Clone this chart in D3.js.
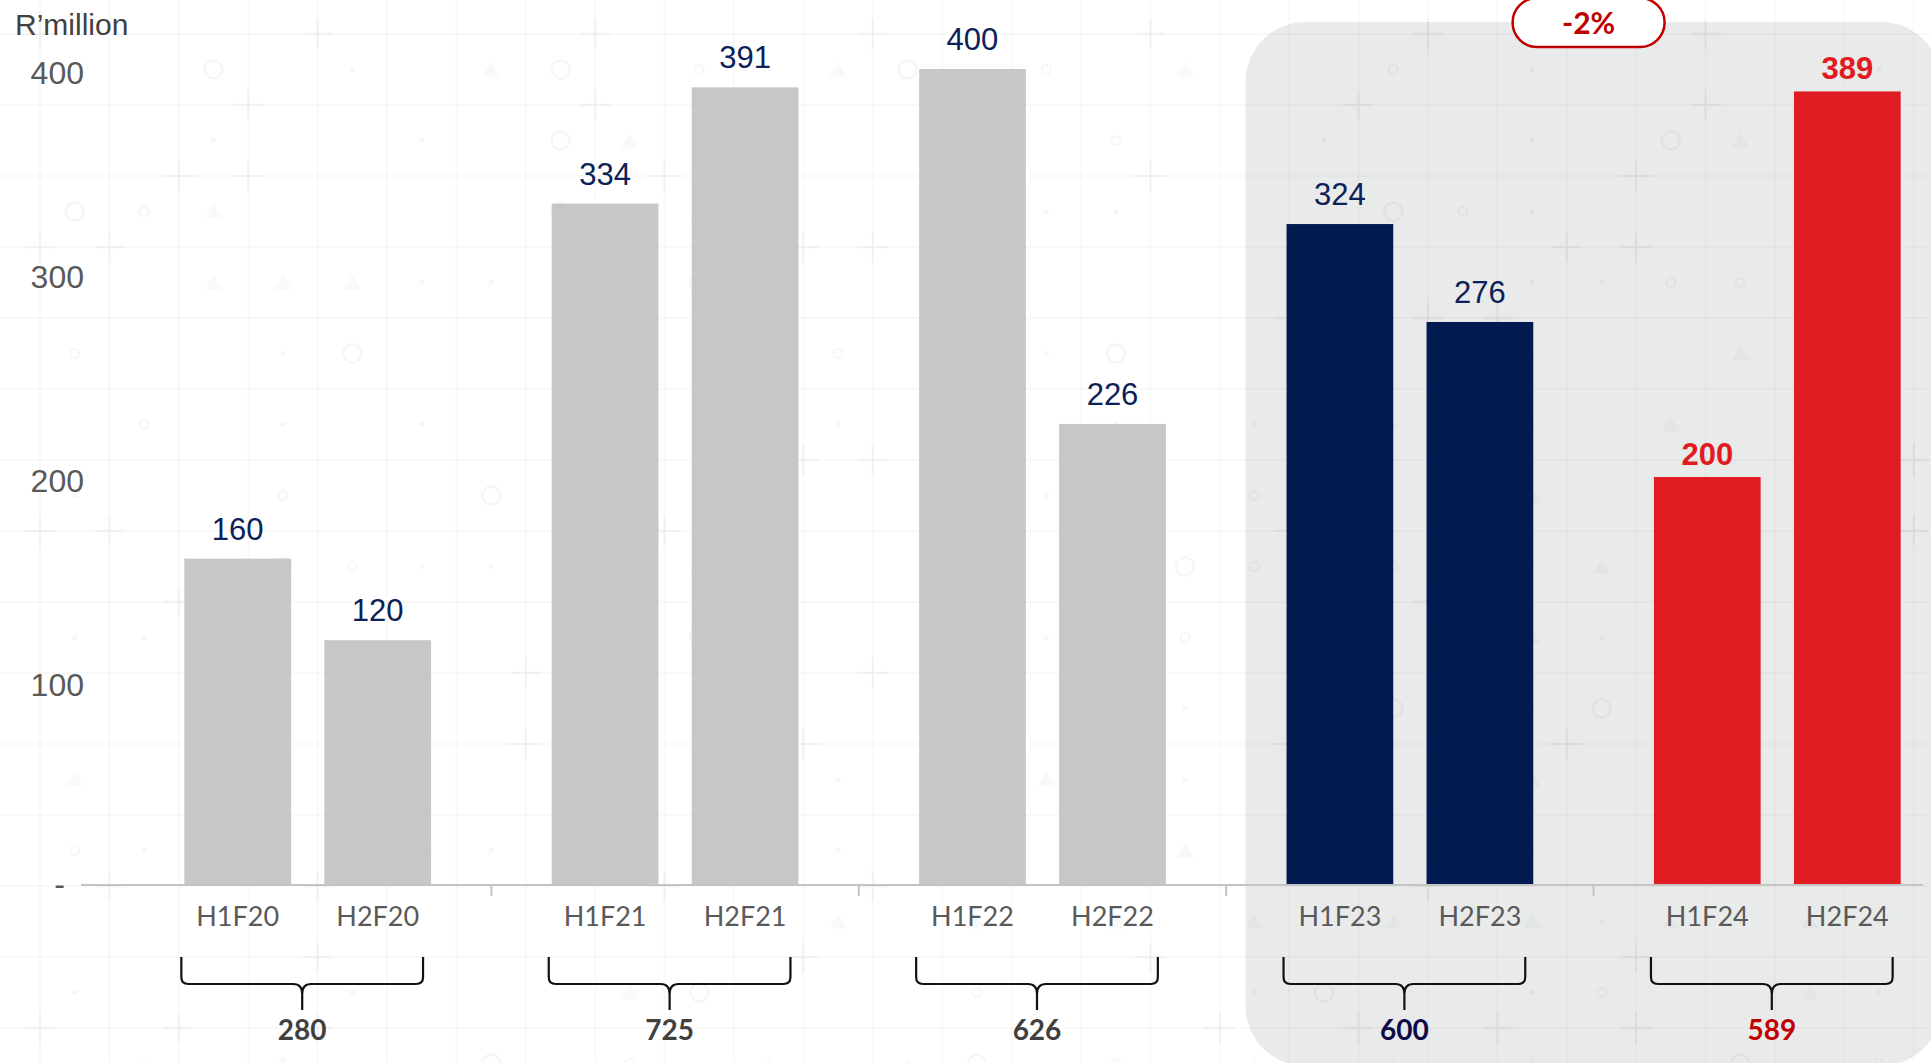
<!DOCTYPE html>
<html>
<head>
<meta charset="utf-8">
<script src="https://cdn.jsdelivr.net/npm/d3@7"></script>
<style>
  html, body { margin: 0; padding: 0; background: #fff; overflow: hidden; }
  svg { display: block; }
</style>
</head>
<body>
<svg id="chart" width="1931" height="1063"></svg>
<script>
// ---- data ----
const periods = ["F20", "F21", "F22", "F23", "F24"];
const halves = ["H1", "H2"];
const h1Values = [160, 334, 400, 324, 200];
const h2Values = [120, 391, 226, 276, 389];
const yearTotals = [280, 725, 626, 600, 589];
const yTicks = [0, 100, 200, 300, 400];
const unitLabel = "R’million";
const changeLabel = "-2%";

// ---- layout ----
const W = 1931, H = 1063;
const baseY = 885;
const svg = d3.select("#chart");

const y = d3.scaleLinear().domain([0, 400]).range([baseY, 69]);
const xGroup = d3.scaleBand().domain(periods).range([124, 1961])
  .paddingInner(0.3285).paddingOuter(0.16425);
const xHalf = d3.scaleBand().domain(halves).range([0, xGroup.bandwidth()])
  .paddingInner(0.238).paddingOuter(0);

const bars = periods.flatMap((p, i) => [
  { period: p, half: "H1", value: h1Values[i], gi: i },
  { period: p, half: "H2", value: h2Values[i], gi: i }
]);

// colour scheme: history in grey, prior year navy, current year red
function styleFor(gi) {
  if (gi === periods.length - 1) return { bar: "#e01b22", label: "#e01b22", bold: true, total: "#c00000" };
  if (gi === periods.length - 2) return { bar: "#011a4f", label: "#0c2157", bold: false, total: "#0b0b48" };
  return { bar: "#c6c7c9", label: "#0c2157", bold: false, total: "#404040" };
}

// ---- highlighted panel behind the last two years ----
const panelX = xGroup(periods[3]) - 41;
svg.append("rect")
  .attr("x", panelX).attr("y", 22)
  .attr("width", W + 10 - panelX).attr("height", 1044)
  .attr("rx", 60).attr("ry", 60)
  .attr("fill", "#e9eaea");

// ---- faint decorative grid pattern ----
const pat = svg.append("g").attr("class", "pattern");
const gx = 69.4, gy = 71, ox = 40, oy = 34;
for (let x = ox - gx; x < W + gx; x += gx) {
  pat.append("line").attr("x1", x).attr("x2", x).attr("y1", 0).attr("y2", H)
    .attr("stroke", "#000").attr("stroke-opacity", 0.025).attr("stroke-width", 2);
}
for (let yy = oy - gy; yy < H + gy; yy += gy) {
  pat.append("line").attr("x1", 0).attr("x2", W).attr("y1", yy).attr("y2", yy)
    .attr("stroke", "#000").attr("stroke-opacity", 0.025).attr("stroke-width", 2);
}
const hash = (i, j) => ((i * 374761 + j * 668265 + i * j * 127) >>> 0) % 97;
for (let i = 0; i * gx + ox < W + gx; i++) {
  for (let j = 0; j * gy + oy < H + gy; j++) {
    const cx = ox + i * gx, cy = oy + j * gy;
    const h = hash(i, j);
    if (h % 6 === 0) {
      pat.append("path")
        .attr("d", `M${cx - 15},${cy}H${cx + 15}M${cx},${cy - 15}V${cy + 15}`)
        .attr("stroke", "#000").attr("stroke-opacity", 0.03).attr("stroke-width", 2.5);
    }
    const mx = cx + gx / 2, my = cy + gy / 2;
    const k = hash(j + 11, i + 5) % 11;
    if (k === 0) {
      pat.append("circle").attr("cx", mx).attr("cy", my).attr("r", 9)
        .attr("fill", "none").attr("stroke", "#000").attr("stroke-opacity", 0.035).attr("stroke-width", 2.5);
    } else if (k === 1) {
      pat.append("circle").attr("cx", mx).attr("cy", my).attr("r", 4.5)
        .attr("fill", "none").attr("stroke", "#000").attr("stroke-opacity", 0.035).attr("stroke-width", 2);
    } else if (k === 2 || k === 3) {
      pat.append("circle").attr("cx", mx).attr("cy", my).attr("r", 2.5)
        .attr("fill", "#000").attr("fill-opacity", 0.035);
    } else if (k === 4) {
      pat.append("path")
        .attr("d", `M${mx},${my - 8}L${mx + 9},${my + 7}L${mx - 9},${my + 7}Z`)
        .attr("fill", "#000").attr("fill-opacity", 0.025);
    }
  }
}

// ---- unit label ----
svg.append("text")
  .attr("x", 15).attr("y", 35)
  .attr("font-family", "Liberation Sans, Arial, sans-serif")
  .attr("font-size", 30).attr("fill", "#404040")
  .text(unitLabel);

// ---- y axis ----
const yAxis = svg.append("g")
  .attr("transform", "translate(92,0)")
  .call(d3.axisLeft(y).tickValues(yTicks).tickSize(0).tickPadding(8)
    .tickFormat(d => d === 0 ? "-" : d));
yAxis.select(".domain").remove();
yAxis.selectAll("text")
  .attr("font-family", "Liberation Sans, Arial, sans-serif")
  .attr("font-size", 32).attr("fill", "#595959")
  .attr("dy", "0.45em")
  .filter(d => d === 0).attr("dx", -19).attr("dy", "0.3em");

// ---- bars ----
const bw = xHalf.bandwidth();
svg.append("g").selectAll("rect").data(bars).join("rect")
  .attr("x", d => xGroup(d.period) + xHalf(d.half))
  .attr("y", d => y(d.value))
  .attr("width", bw)
  .attr("height", d => y(0) - y(d.value))
  .attr("fill", d => styleFor(d.gi).bar);

// ---- value labels ----
svg.append("g").selectAll("text").data(bars).join("text")
  .attr("x", d => xGroup(d.period) + xHalf(d.half) + bw / 2)
  .attr("y", d => y(d.value) - (styleFor(d.gi).bold ? 12 : 19))
  .attr("text-anchor", "middle")
  .attr("font-family", "Liberation Sans, Arial, sans-serif")
  .attr("font-size", 31)
  .attr("font-weight", d => styleFor(d.gi).bold ? "bold" : "normal")
  .attr("fill", d => styleFor(d.gi).label)
  .text(d => d.value);

// ---- category axis ----
const step = xGroup.step();
svg.append("line")
  .attr("x1", 81).attr("x2", 1923).attr("y1", baseY).attr("y2", baseY)
  .attr("stroke", "#c4c4c4").attr("stroke-width", 2);
svg.append("g").selectAll("line").data(periods.slice(0, -1)).join("line")
  .attr("x1", p => xGroup(p) + xGroup.bandwidth() + (step - xGroup.bandwidth()) / 2)
  .attr("x2", p => xGroup(p) + xGroup.bandwidth() + (step - xGroup.bandwidth()) / 2)
  .attr("y1", baseY).attr("y2", baseY + 11)
  .attr("stroke", "#c4c4c4").attr("stroke-width", 2);

svg.append("g").selectAll("text").data(bars).join("text")
  .attr("x", d => xGroup(d.period) + xHalf(d.half) + bw / 2)
  .attr("y", 926)
  .attr("text-anchor", "middle")
  .attr("font-family", "Lato, Carlito, sans-serif")
  .attr("font-size", 27)
  .attr("fill", "#595959")
  .text(d => d.half + d.period);

// ---- yearly brackets and totals ----
const brackets = svg.append("g");
periods.forEach((p, i) => {
  const L = xGroup(p) - 3, R = xGroup(p) + xGroup.bandwidth() - 8, C = (L + R) / 2;
  const top = 957, mid = 984, tip = 1010, r = 7;
  const d = `M${L},${top}V${mid - r}Q${L},${mid} ${L + r},${mid}H${C - 9}` +
            `Q${C},${mid} ${C},${mid + 10}V${tip}` +
            `M${C},${mid + 10}Q${C},${mid} ${C + 9},${mid}H${R - r}Q${R},${mid} ${R},${mid - r}V${top}`;
  brackets.append("path").attr("d", d)
    .attr("fill", "none").attr("stroke", "#111").attr("stroke-width", 2.2);
  brackets.append("text")
    .attr("x", C).attr("y", 1040)
    .attr("text-anchor", "middle")
    .attr("font-family", "Lato, Carlito, sans-serif")
    .attr("font-weight", "bold").attr("font-size", 28)
    .attr("fill", styleFor(i).total)
    .text(yearTotals[i]);
});

// ---- year-on-year change badge ----
const badgeCx = (xGroup(periods[3]) + xGroup(periods[4]) + xGroup.bandwidth()) / 2 - 5;
svg.append("rect")
  .attr("x", badgeCx - 76).attr("y", -2)
  .attr("width", 152).attr("height", 49)
  .attr("rx", 24.5).attr("ry", 24.5)
  .attr("fill", "#fff").attr("stroke", "#c00000").attr("stroke-width", 2.5);
svg.append("text")
  .attr("x", badgeCx).attr("y", 34)
  .attr("text-anchor", "middle")
  .attr("font-family", "Lato, Carlito, sans-serif")
  .attr("font-weight", "bold").attr("font-size", 30)
  .attr("fill", "#c00000")
  .text(changeLabel);
</script>
</body>
</html>
